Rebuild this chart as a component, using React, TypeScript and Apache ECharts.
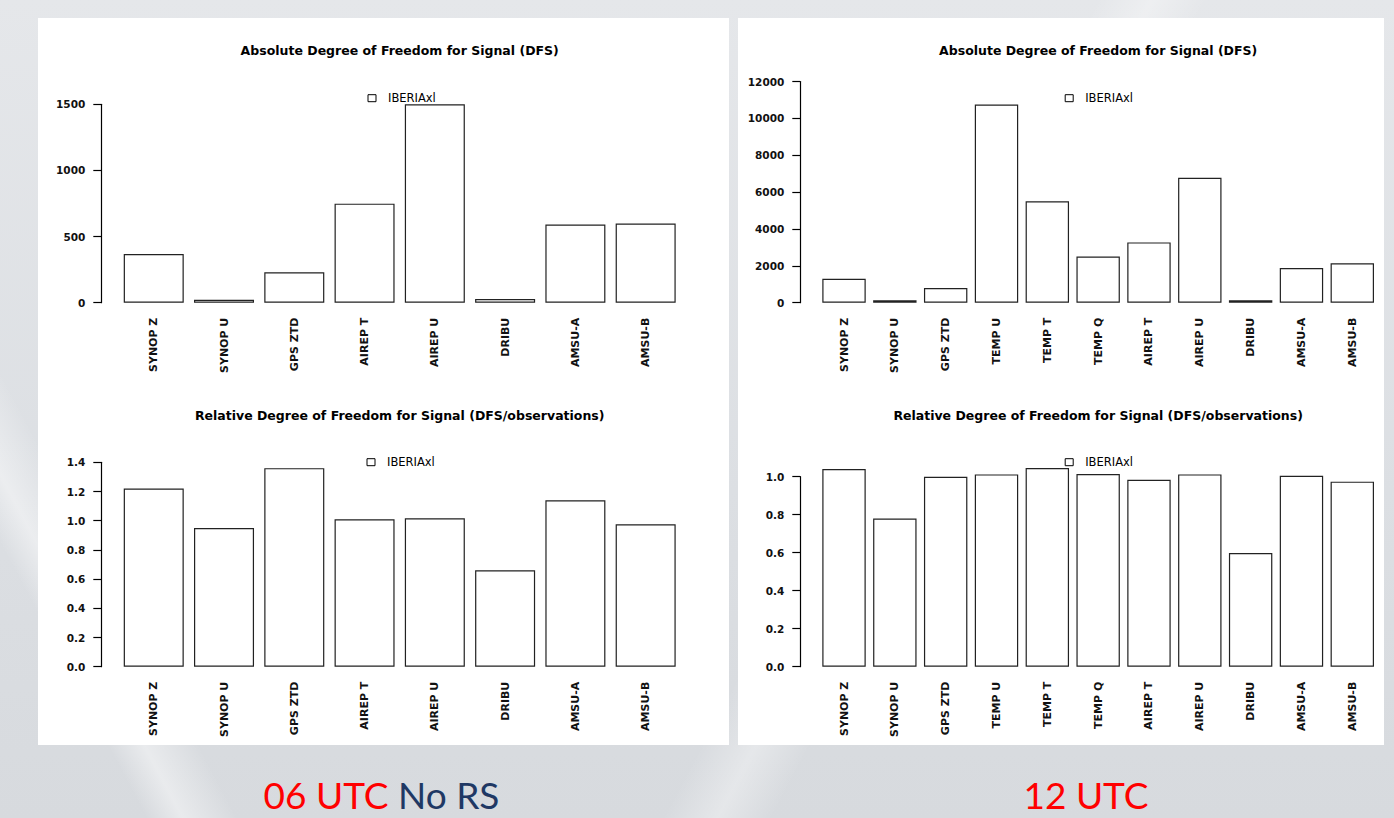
import React, { useEffect, useRef } from "react";
import * as echarts from "echarts";

// ---------- data ----------
const categories06 = ["SYNOP Z", "SYNOP U", "GPS ZTD", "AIREP T", "AIREP U", "DRIBU", "AMSU-A", "AMSU-B"];
const categories12 = ["SYNOP Z", "SYNOP U", "GPS ZTD", "TEMP U", "TEMP T", "TEMP Q", "AIREP T", "AIREP U", "DRIBU", "AMSU-A", "AMSU-B"];

const absDfs06 = [368, 22, 230, 749, 1500, 28, 591, 599];
const absDfs12 = [1300, 130, 795, 10750, 5500, 2510, 3270, 6780, 130, 1880, 2140];
const relDfs06 = [1.22, 0.95, 1.36, 1.01, 1.016, 0.66, 1.14, 0.975];
const relDfs12 = [1.04, 0.78, 1.0, 1.012, 1.046, 1.014, 0.984, 1.012, 0.598, 1.005, 0.974];

const seriesName = "IBERIAxl";
const titleAbs = "Absolute Degree of Freedom for Signal (DFS)";
const titleRel = "Relative Degree of Freedom for Signal (DFS/observations)";
const caption06a = "06 UTC";
const caption06b = "No RS";
const caption12 = "12 UTC";

const FONT = "'DejaVu Sans', sans-serif";
const CAP_FONT = "Lato, 'Open Sans', sans-serif";

type Panel = {
  cats: string[];
  values: number[];
  max: number;
  interval: number;
  decimals: number;
  left: number;
  width: number;
  top: number;
  bottom: number;
  axisX: number;
  title: string;
  titleY: number;
  legendX: number;
  legendY: number;
  clip: boolean;
};

const panels: Panel[] = [
  { cats: categories06, values: absDfs06, max: 1500, interval: 500, decimals: 0, left: 118.6, width: 562.2, top: 104.3, bottom: 302.7, axisX: 101.3, title: titleAbs, titleY: 50.3, legendX: 367.5, legendY: 92.7, clip: true },
  { cats: categories12, values: absDfs12, max: 12000, interval: 2000, decimals: 0, left: 818.6, width: 559.1, top: 81.5, bottom: 302.7, axisX: 800.3, title: titleAbs, titleY: 50.3, legendX: 1064.7, legendY: 92.7, clip: true },
  { cats: categories06, values: relDfs06, max: 1.4, interval: 0.2, decimals: 1, left: 118.6, width: 562.2, top: 462.3, bottom: 666.7, axisX: 101.3, title: titleRel, titleY: 415, legendX: 366.5, legendY: 456.7, clip: true },
  { cats: categories12, values: relDfs12, max: 1.0, interval: 0.2, decimals: 1, left: 818.6, width: 559.1, top: 476.7, bottom: 666.7, axisX: 800.3, title: titleRel, titleY: 415, legendX: 1064.7, legendY: 456.7, clip: false },
];

export default function App() {
  const ref = useRef<HTMLDivElement>(null);

  useEffect(() => {
    if (!ref.current) return;
    const chart = echarts.init(ref.current, undefined, { renderer: "svg" });

    const option: any = {
      animation: false,
      backgroundColor: "transparent",
      textStyle: { fontFamily: FONT },
      title: panels.map((p) => ({
        text: p.title,
        left: p.left + p.width / 2,
        textAlign: "center",
        top: p.titleY - 8,
        padding: 0,
        textStyle: { fontFamily: FONT, fontWeight: "bold", fontSize: 12.5, color: "#000", lineHeight: 16 },
      })),
      legend: panels.map((p) => ({
        data: [{ name: seriesName, icon: "rect" }],
        left: p.legendX,
        top: p.legendY - 0.5,
        padding: 0,
        itemWidth: 8,
        itemHeight: 7,
        selectedMode: false,
        itemStyle: { color: "#ffffff", borderColor: "#000", borderWidth: 1 },
        textStyle: { fontFamily: FONT, fontSize: 11.5, color: "#000", padding: [0, 0, 0, 7] },
      })),
      grid: panels.map((p) => ({
        left: p.left,
        width: p.width,
        top: p.top,
        height: p.bottom - p.top,
        containLabel: false,
        outerBoundsMode: "none",
      })),
      xAxis: panels.map((p, i) => ({
        type: "category",
        gridIndex: i,
        data: p.cats,
        boundaryGap: true,
        axisLine: { show: false },
        axisTick: { show: false },
        splitLine: { show: false },
        axisLabel: {
          interval: 0,
          rotate: 90,
          margin: 15,
          fontFamily: FONT,
          fontSize: 11,
          fontWeight: "bold",
          color: "#111",
        },
      })),
      yAxis: panels.map((p, i) => ({
        type: "value",
        gridIndex: i,
        min: 0,
        max: p.max,
        interval: p.interval,
        offset: p.left - p.axisX,
        axisLine: { show: true, lineStyle: { color: "#000", width: 1.2 } },
        axisTick: { show: true, length: 8, lineStyle: { color: "#000", width: 1.2 } },
        splitLine: { show: false },
        axisLabel: {
          margin: 16,
          fontFamily: FONT,
          fontSize: 10.5,
          fontWeight: "bold",
          color: "#111",
          formatter: (v: number) => v.toFixed(p.decimals),
        },
      })),
      series: panels.map((p, i) => ({
        type: "bar",
        name: seriesName,
        xAxisIndex: i,
        yAxisIndex: i,
        data: p.values,
        barCategoryGap: "14.6%",
        clip: p.clip,
        itemStyle: { color: "#ffffff", borderColor: "#222", borderWidth: 1.2 },
        emphasis: { disabled: true },
      })),
      graphic: [
        {
          type: "text",
          x: 381.5,
          y: 794,
          style: {
            text: `{r|${caption06a}} {b|${caption06b}}`,
            align: "center",
            verticalAlign: "middle",
            lineHeight: 30,
            rich: {
              r: { fontFamily: CAP_FONT, fontSize: 37, lineHeight: 30, fill: "#ff0000", color: "#ff0000" },
              b: { fontFamily: CAP_FONT, fontSize: 37, lineHeight: 30, fill: "#1f3864", color: "#1f3864" },
            },
            fontFamily: CAP_FONT,
            fontSize: 37,
            fill: "#ff0000",
          },
        },
        {
          type: "text",
          x: 1086,
          y: 794,
          style: {
            text: caption12,
            align: "center",
            verticalAlign: "middle",
            lineHeight: 30,
            fontFamily: CAP_FONT,
            fontSize: 37,
            fill: "#ff0000",
          },
        },
      ],
    };

    chart.setOption(option);
    return () => chart.dispose();
  }, []);

  return (
    <div
      style={{
        position: "fixed",
        left: 0,
        top: 0,
        width: 1394,
        height: 818,
        overflow: "hidden",
        background:
          "linear-gradient(118deg, rgba(255,255,255,0) 0%, rgba(255,255,255,0) 60%, rgba(255,255,255,0.35) 63%, rgba(255,255,255,0) 66%, rgba(255,255,255,0) 100%), linear-gradient(62deg, rgba(255,255,255,0) 0%, rgba(255,255,255,0) 8%, rgba(255,255,255,0.45) 10%, rgba(255,255,255,0) 13%, rgba(255,255,255,0) 100%), linear-gradient(180deg, #e5e7ea 0%, #dcdfe3 60%, #d7dade 100%)",
      }}
    >
      <div style={{ position: "absolute", left: 38, top: 18, width: 691, height: 727, background: "#ffffff" }} />
      <div style={{ position: "absolute", left: 738, top: 18, width: 646, height: 727, background: "#ffffff" }} />
      <div ref={ref} style={{ position: "absolute", left: 0, top: 0, width: 1394, height: 818 }} />
    </div>
  );
}
